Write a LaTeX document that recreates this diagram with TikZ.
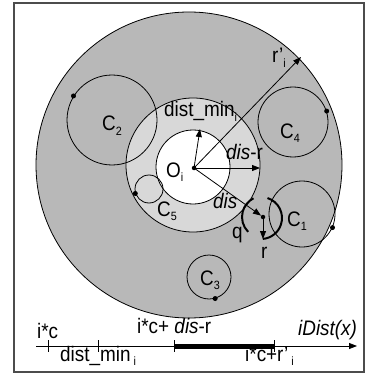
\documentclass[tikz,border=0pt]{standalone}
\usepackage{fontspec}
\setmainfont{Liberation Sans}[FakeStretch=0.9]
\usetikzlibrary{arrows.meta}
\newcommand{\sbs}[1]{\raisebox{-4.5pt}{\fontsize{12}{12}\selectfont #1}}
\definecolor{darkfill}{RGB}{184,184,184}
\definecolor{lightfill}{RGB}{216,216,216}
\begin{document}
\begin{tikzpicture}[x=1pt,y=-1pt, font=\fontsize{21}{24}\selectfont,
  lbl/.style={anchor=base west, inner sep=0pt},
  dot/.style={circle, fill=black, inner sep=0pt, minimum size=5pt},
  ring/.style={circle, draw=black, line width=0.8pt, inner sep=0pt},
  arr/.style={-{Triangle[length=8pt,width=6pt]}, line width=0.8pt},
  thickarc/.style={line width=2pt},
  tick/.style={line width=0.8pt}]
\useasboundingbox (0,0) rectangle (365,377);
\draw[line width=1.5pt, draw=black!70] (14,3) rectangle (364,372);
% filled regions
\node[ring, fill=darkfill, minimum size=306pt] (big) at (189,165) {};
\node[ring, fill=lightfill, minimum size=134pt] (mid) at (193,165) {};
\node[ring, fill=white, minimum size=74pt] (inner) at (193,167) {};
% small circles
\node[ring, minimum size=90pt] (c2) at (112,120) {};
\node[ring, minimum size=70pt] (c4) at (293,122) {};
\node[ring, minimum size=66pt] (c1) at (302,214) {};
\node[ring, minimum size=28pt] (c5) at (149,189) {};
\node[ring, minimum size=44pt] (c3) at (209,277) {};
% dots
\node[dot] (d2) at (c2.148) {};
\node[dot] (d4) at (c4.18) {};
\node[dot] (d1) at (c1.336) {};
\node[dot] (d5) at (c5.198) {};
\node[dot] (d3) at (c3.286) {};
\node[dot, minimum size=4.5pt] (oi) at (194,168) {};
\node[dot, minimum size=4.5pt] (qd) at (263,217) {};
% arrow ends
\coordinate (edm) at (200,129);
\coordinate (edr) at (260,168);
\coordinate (erp) at (301,57);
\coordinate (er) at (263,239);
\draw[arr] (oi.center) -- (edm);
\draw[arr] (oi.center) -- (edr);
\draw[arr] (oi.center) -- (erp);
\draw[arr] (oi.center) -- (qd);
\draw[arr] (qd.center) -- (er);
% thick arcs around q
\draw[thickarc] ([shift={(135:21)}]qd.center) arc[start angle=135, end angle=243, radius=21];
\draw[thickarc] ([shift={(-72:21)}]261,218) arc[start angle=-72, end angle=85, radius=21];
% labels
\node[lbl] (tdm) at (164,117) {dist\_min\sbs{i}};
\node[lbl] (tdr) at (226,159) {\textit{dis}-r};
\node[lbl] (toi) at (166,177) {O\sbs{i}};
\node[lbl] (tdis) at (213,208) {\textit{dis}};
\node[lbl] (trp) at (272,63) {r’\sbs{i}};
\node[lbl] (tc2) at (102,131) {C\sbs{2}};
\node[lbl] (tc4) at (280,138) {C\sbs{4}};
\node[lbl] (tc1) at (287,226) {C\sbs{1}};
\node[lbl] (tc5) at (157,216) {C\sbs{5}};
\node[lbl] (tc3) at (200,285) {C\sbs{3}};
\node[lbl] (tq) at (232,238) {q};
\node[lbl] (tr) at (261,258) {r};
% axis
\coordinate (ax0) at (36,346);
\coordinate (ax1) at (357,346);
\draw[arr] (ax0) -- (ax1);
\coordinate (b0) at (174,346);
\coordinate (b1) at (274,346);
\draw[line width=5pt] (b0) -- (b1);
\foreach \xx in {48,98,174,274} \draw[tick] (\xx,340) -- (\xx,352);
\node[lbl] (tic) at (37,338) {i*c};
\node[lbl] (tdmb) at (60,361) {dist\_min\sbs{ i}};
\node[lbl] (ticd) at (137,333) {i*c+ \textit{dis}-r};
\node[lbl] (tid) at (298,335) {\textit{iDist(x)}};
\node[lbl] (ticr) at (245,361) {i*c+r’\sbs{ i}};
\end{tikzpicture}
\end{document}
